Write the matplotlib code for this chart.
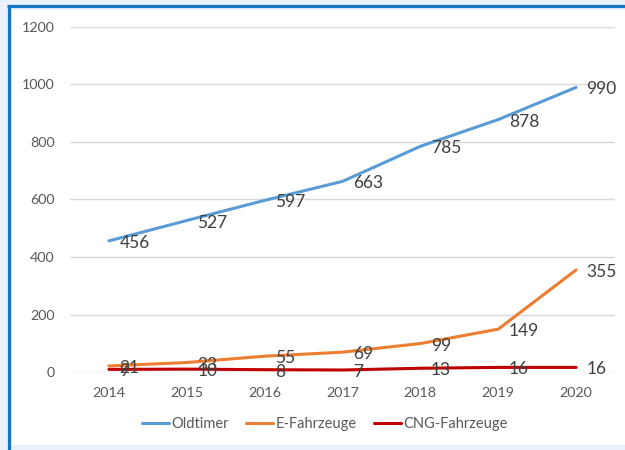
import matplotlib
matplotlib.use("Agg")
import matplotlib.pyplot as plt
from matplotlib.patches import Rectangle
from matplotlib.lines import Line2D

years = ["2014", "2015", "2016", "2017", "2018", "2019", "2020"]
oldtimer = [456, 527, 597, 663, 785, 878, 990]
e_fahrzeuge = [21, 33, 55, 69, 99, 149, 355]
cng_fahrzeuge = [9, 10, 8, 7, 13, 16, 16]
series_names = ["Oldtimer", "E-Fahrzeuge", "CNG-Fahrzeuge"]
y_ticks = [0, 200, 400, 600, 800, 1000, 1200]

colors = ["#5B9BD5", "#ED7D31", "#C00000"]
text_color = "#595959"
plt.rcParams['font.family'] = ['Lato', 'DejaVu Sans']

W, H = 625, 450
fig = plt.figure(figsize=(W / 100, H / 100), dpi=100)
fig.patch.set_facecolor("#EAF1FA")

# white chart area and blue frame (decoration)
fig.patches.append(Rectangle((12 / W, 1 - 445 / H), 1 - 12 / W, (445 - 10) / H,
                             transform=fig.transFigure, facecolor="white",
                             edgecolor="none", zorder=-10))
fig.lines.append(Line2D([8.5 / W, 8.5 / W], [0, 1 - 5.5 / H], transform=fig.transFigure,
                        color="#1574C4", linewidth=2.3, solid_capstyle="butt", zorder=-5))
fig.lines.append(Line2D([7.4 / W, 1], [1 - 5.5 / H, 1 - 5.5 / H], transform=fig.transFigure,
                        color="#1574C4", linewidth=2.3, solid_capstyle="butt", zorder=-5))

left, right = 70 / W, 615 / W
bottom, top = 1 - 372 / H, 1 - 27 / H
ax = fig.add_axes([left, bottom, right - left, top - bottom])
ax.set_facecolor("none")
ax.set_zorder(1)

x = list(range(len(years)))
all_series = [oldtimer, e_fahrzeuge, cng_fahrzeuge]
for vals, name, c in zip(all_series, series_names, colors):
    ax.plot(x, vals, color=c, linewidth=2.2, label=name, solid_capstyle="round", zorder=3)

for vals in all_series:
    for xi, v in zip(x, vals):
        ax.annotate(str(v), (xi, v), xytext=(7.5, -1.5), textcoords="offset points",
                    ha="left", va="center", fontsize=12.5, color="#404040", zorder=5)

ax.set_xlim(-0.5, len(years) - 0.5)
ax.set_ylim(0, 1200)
ax.set_yticks(y_ticks)
ax.set_yticklabels([str(t) for t in y_ticks])
ax.set_xticks(x)
ax.set_xticklabels(years)
ax.grid(axis="y", color="#D9D9D9", linewidth=1.0, zorder=0)
ax.set_axisbelow(True)
for s in ax.spines.values():
    s.set_visible(False)
ax.tick_params(axis="y", length=0, pad=11, labelsize=10.3, labelcolor=text_color)
ax.tick_params(axis="x", length=0, pad=11, labelsize=10.3, labelcolor=text_color)

fig.legend(loc="center", bbox_to_anchor=(325 / W, 1 - 424 / H), ncol=3, frameon=False,
           fontsize=10.5, handlelength=1.85, handletextpad=0.2, columnspacing=1.15,
           labelcolor=text_color)

fig.savefig("out.png", dpi=100, facecolor=fig.get_facecolor())
